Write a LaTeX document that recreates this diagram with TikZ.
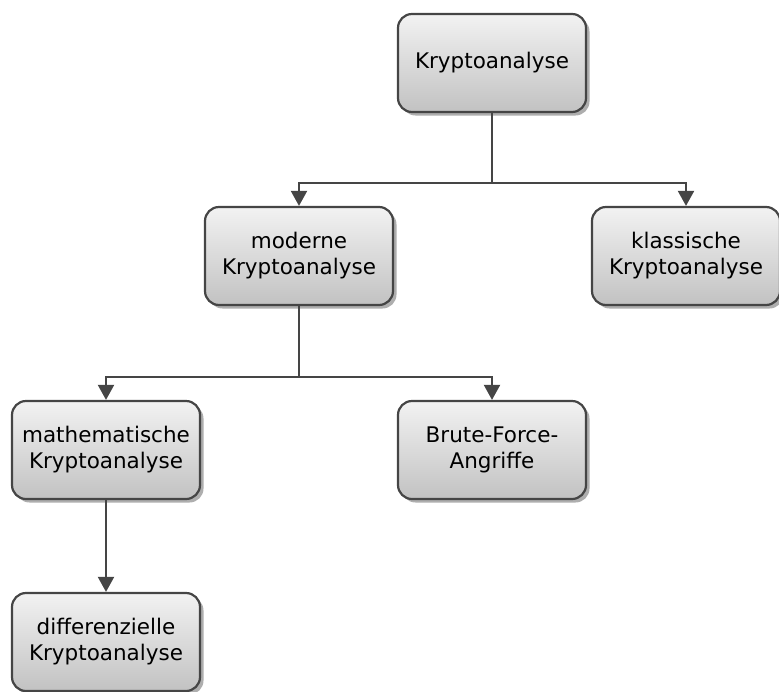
\documentclass[tikz,border=0pt]{standalone}
\usepackage{fontspec}
\setmainfont{DejaVu Sans}
\usetikzlibrary{arrows.meta,shadows,positioning}
\definecolor{edge}{HTML}{454545}
\definecolor{boxtop}{HTML}{F2F2F2}
\definecolor{boxbot}{HTML}{C2C2C2}
\tikzset{
  x=1pt, y=-1pt,
  box/.style={draw=edge, line width=2.2pt, rounded corners=14pt,
    top color=boxtop, bottom color=boxbot,
    minimum width=188pt, minimum height=98pt, align=center,
    font=\fontsize{21.5}{26}\selectfont,
    drop shadow={shadow xshift=3.5pt, shadow yshift=-3.5pt, fill=black!45, opacity=0.7}},
  link/.style={draw=edge, line width=2pt},
  tip/.style={link, -{Triangle[length=15pt,width=16pt]}}
}
\begin{document}
\begin{tikzpicture}
\useasboundingbox (0,0) rectangle (779,691);
\node[box] (root) at (492,63) {Kryptoanalyse};
\node[box] (mod) at (299,256) {moderne\\Kryptoanalyse};
\node[box] (kla) at (686,256) {klassische\\Kryptoanalyse};
\node[box] (mat) at (106,450) {mathematische\\Kryptoanalyse};
\node[box] (bru) at (492,450) {Brute-Force-\\Angriffe};
\node[box] (dif) at (106,642) {differenzielle\\Kryptoanalyse};
\coordinate (j1) at (492,183);
\coordinate (j2) at (299,377);
\draw[link] (root.south) -- (j1);
\draw[tip] (j1) -| (mod.north);
\draw[tip] (j1) -| (kla.north);
\draw[link] (mod.south) -- (j2);
\draw[tip] (j2) -| (mat.north);
\draw[tip] (j2) -| (bru.north);
\draw[tip] (mat.south) -- (dif.north);
\end{tikzpicture}
\end{document}
